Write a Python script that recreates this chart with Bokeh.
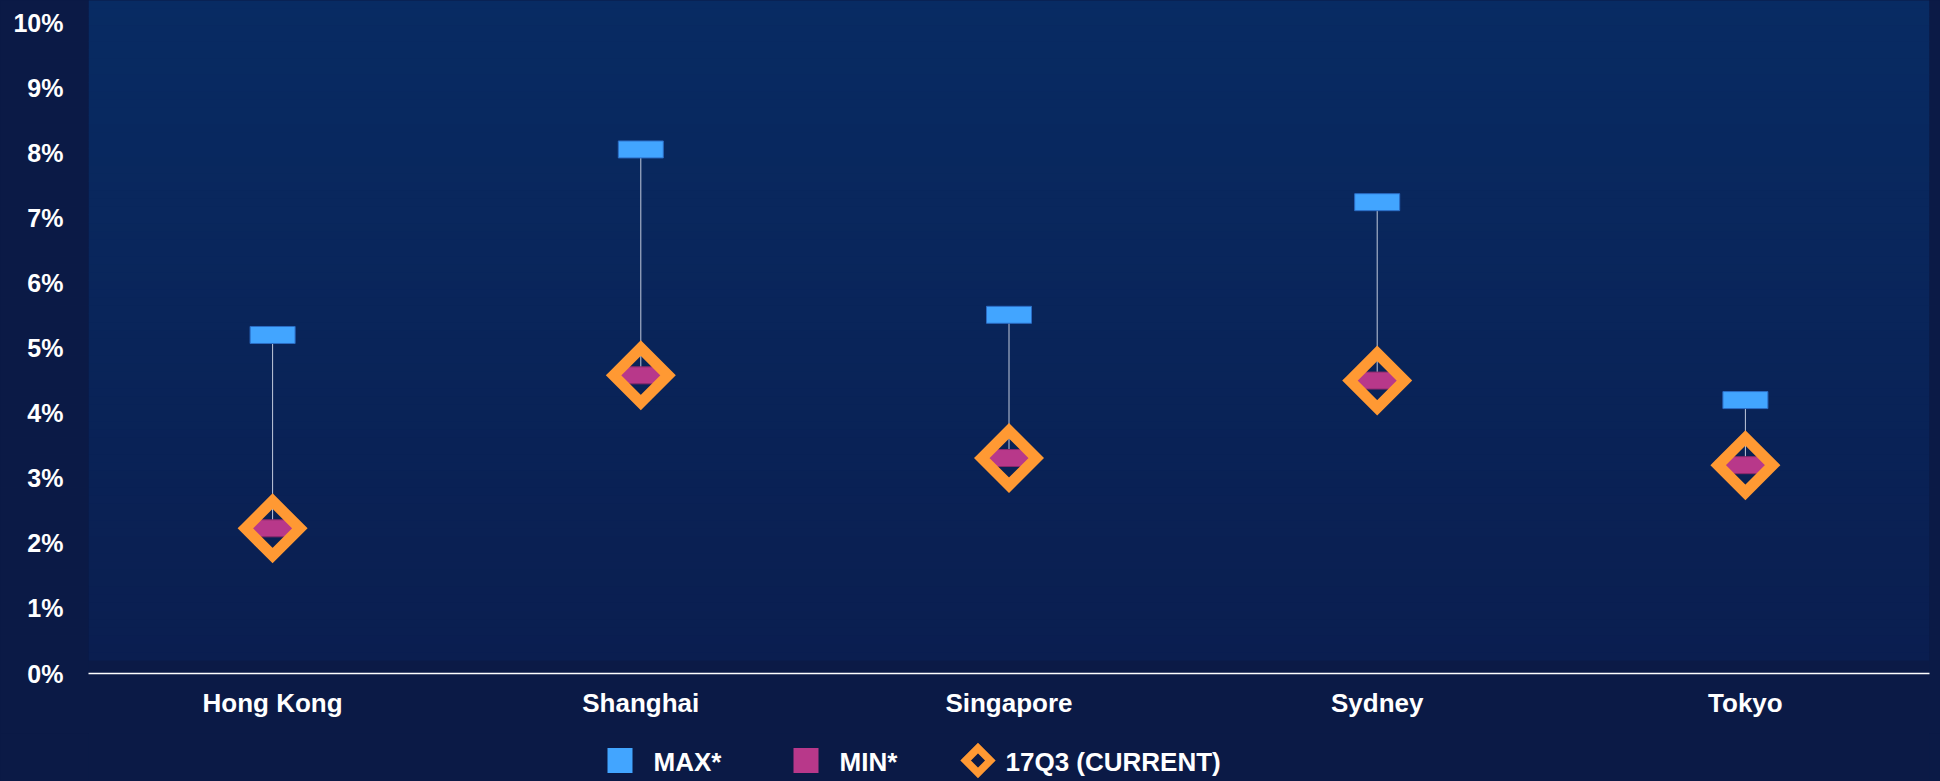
import numpy as np
from bokeh.plotting import figure
from bokeh.models import Range1d, FixedTicker, ColumnDataSource, FactorRange
from bokeh.layouts import column
from bokeh.embed import file_html
from bokeh.resources import INLINE
from bokeh.core.properties import value

# ---------------- data ----------------
cities = ["Hong Kong", "Shanghai", "Singapore", "Sydney", "Tokyo"]
max_vals = [5.20, 8.05, 5.51, 7.24, 4.20]
min_vals = [2.23, 4.58, 3.31, 4.50, 3.20]
current_vals = [2.23, 4.58, 3.31, 4.50, 3.20]
y_ticks = list(range(0, 11))
y_tick_labels = ["0%", "1%", "2%", "3%", "4%", "5%", "6%", "7%", "8%", "9%", "10%"]
legend_labels = ["MAX*", "MIN*", "17Q3 (CURRENT)"]

# ---------------- styles ----------------
OUT = "#0b1a46"
TOP = (8, 43, 99)
BOT = (10, 30, 80)
BLUE = "#42a5ff"
BLUE_EDGE = "#2b6cc4"
MAG = "#b8388a"
MAG_EDGE = "#8a2a6a"
ORANGE = "#ff9933"
FONT = "Liberation Sans"
BG_STYLE = {"background-color": OUT}

src = ColumnDataSource(dict(city=cities, mx=max_vals, mn=min_vals, cur=current_vals))

p = figure(width=1940, height=733,
           x_range=FactorRange(*cities, range_padding=0),
           y_range=Range1d(0, 10.338),
           output_backend="svg", toolbar_location=None,
           min_border_left=88, min_border_right=11, min_border_top=0, min_border_bottom=60)
p.background_fill_color = OUT
p.border_fill_color = OUT
p.outline_line_color = None
p.xgrid.grid_line_color = None
p.ygrid.grid_line_color = None
p.styles = BG_STYLE

# gradient background of the plot area (decoration), synthetic x coords 0..N
n = 80
edges = np.linspace(0.2, 10.338, n + 1)
cols = []
for i in range(n):
    t = (i + 0.5) / n
    r = int(round(BOT[0] + (TOP[0] - BOT[0]) * t))
    g = int(round(BOT[1] + (TOP[1] - BOT[1]) * t))
    b = int(round(BOT[2] + (TOP[2] - BOT[2]) * t))
    cols.append("#%02x%02x%02x" % (r, g, b))
p.quad(left=0, right=len(cities), bottom=edges[:-1], top=edges[1:] + 0.01, fill_color=cols,
       line_color=None)

# whiskers
p.segment(x0="city", y0="mx", x1="city", y1="mn", source=src, line_color="#c3cbdc", line_width=1)
# max bars
p.rect(x="city", y="mx", width=45, height=17, width_units="screen", height_units="screen",
       source=src, fill_color=BLUE, line_color=BLUE_EDGE, line_width=1)
# min bars
p.rect(x="city", y="mn", width=45, height=17, width_units="screen", height_units="screen",
       source=src, fill_color=MAG, line_color=MAG_EDGE, line_width=1)
# current diamonds
p.scatter(x="city", y="cur", marker="square", angle=np.pi / 4, size=38.5, source=src,
          fill_alpha=0, line_color=ORANGE, line_width=11, line_join="miter")

# axes
p.yaxis.ticker = FixedTicker(ticks=y_ticks)
p.yaxis.major_label_overrides = {t: lab for t, lab in zip(y_ticks, y_tick_labels)}
p.yaxis.axis_line_color = None
p.yaxis.major_tick_line_color = None
p.yaxis.minor_tick_line_color = None
p.yaxis.major_tick_out = 0
p.yaxis.major_tick_in = 0
p.yaxis.major_label_standoff = 25
p.yaxis.major_label_text_color = "white"
p.yaxis.major_label_text_font = FONT
p.yaxis.major_label_text_font_style = "bold"
p.yaxis.major_label_text_font_size = "25px"

p.xaxis.axis_line_color = "white"
p.xaxis.axis_line_width = 1.5
p.xaxis.major_tick_line_color = None
p.xaxis.minor_tick_line_color = None
p.xaxis.major_tick_out = 0
p.xaxis.major_tick_in = 0
p.xaxis.major_label_standoff = 14
p.xaxis.major_label_text_color = "white"
p.xaxis.major_label_text_font = FONT
p.xaxis.major_label_text_font_style = "bold"
p.xaxis.major_label_text_font_size = "26px"

# ---------------- legend (separate strip, pixel coordinates) ----------------
LH = 48
lg = figure(width=1940, height=LH, x_range=Range1d(88, 1929), y_range=Range1d(0, LH),
            output_backend="svg", toolbar_location=None,
            min_border_left=88, min_border_right=11, min_border_top=0, min_border_bottom=0)
lg.axis.visible = False
lg.xgrid.grid_line_color = None
lg.ygrid.grid_line_color = None
lg.background_fill_color = OUT
lg.border_fill_color = OUT
lg.outline_line_color = None
lg.styles = BG_STYLE
cy = 20
lg.rect(x=[619.5], y=[cy + 1], width=25, height=25, fill_color=BLUE, line_color=None)
lg.rect(x=[805.5], y=[cy + 1], width=25, height=25, fill_color=MAG, line_color=None)
lg.scatter(x=[977.5], y=[cy + 1], marker="square", angle=np.pi / 4, size=17.5,
           fill_alpha=0, line_color=ORANGE, line_width=7.5, line_join="miter")
lg.text(x=[653, 839, 1005], y=[cy, cy, cy], text=legend_labels, text_color="white",
        text_font=value(FONT), text_font_style="bold", text_font_size="26px",
        text_baseline="middle", text_align="left")

layout = column(p, lg, spacing=0)
layout.styles = BG_STYLE

open("out.html", "w").write(file_html(layout, INLINE))
